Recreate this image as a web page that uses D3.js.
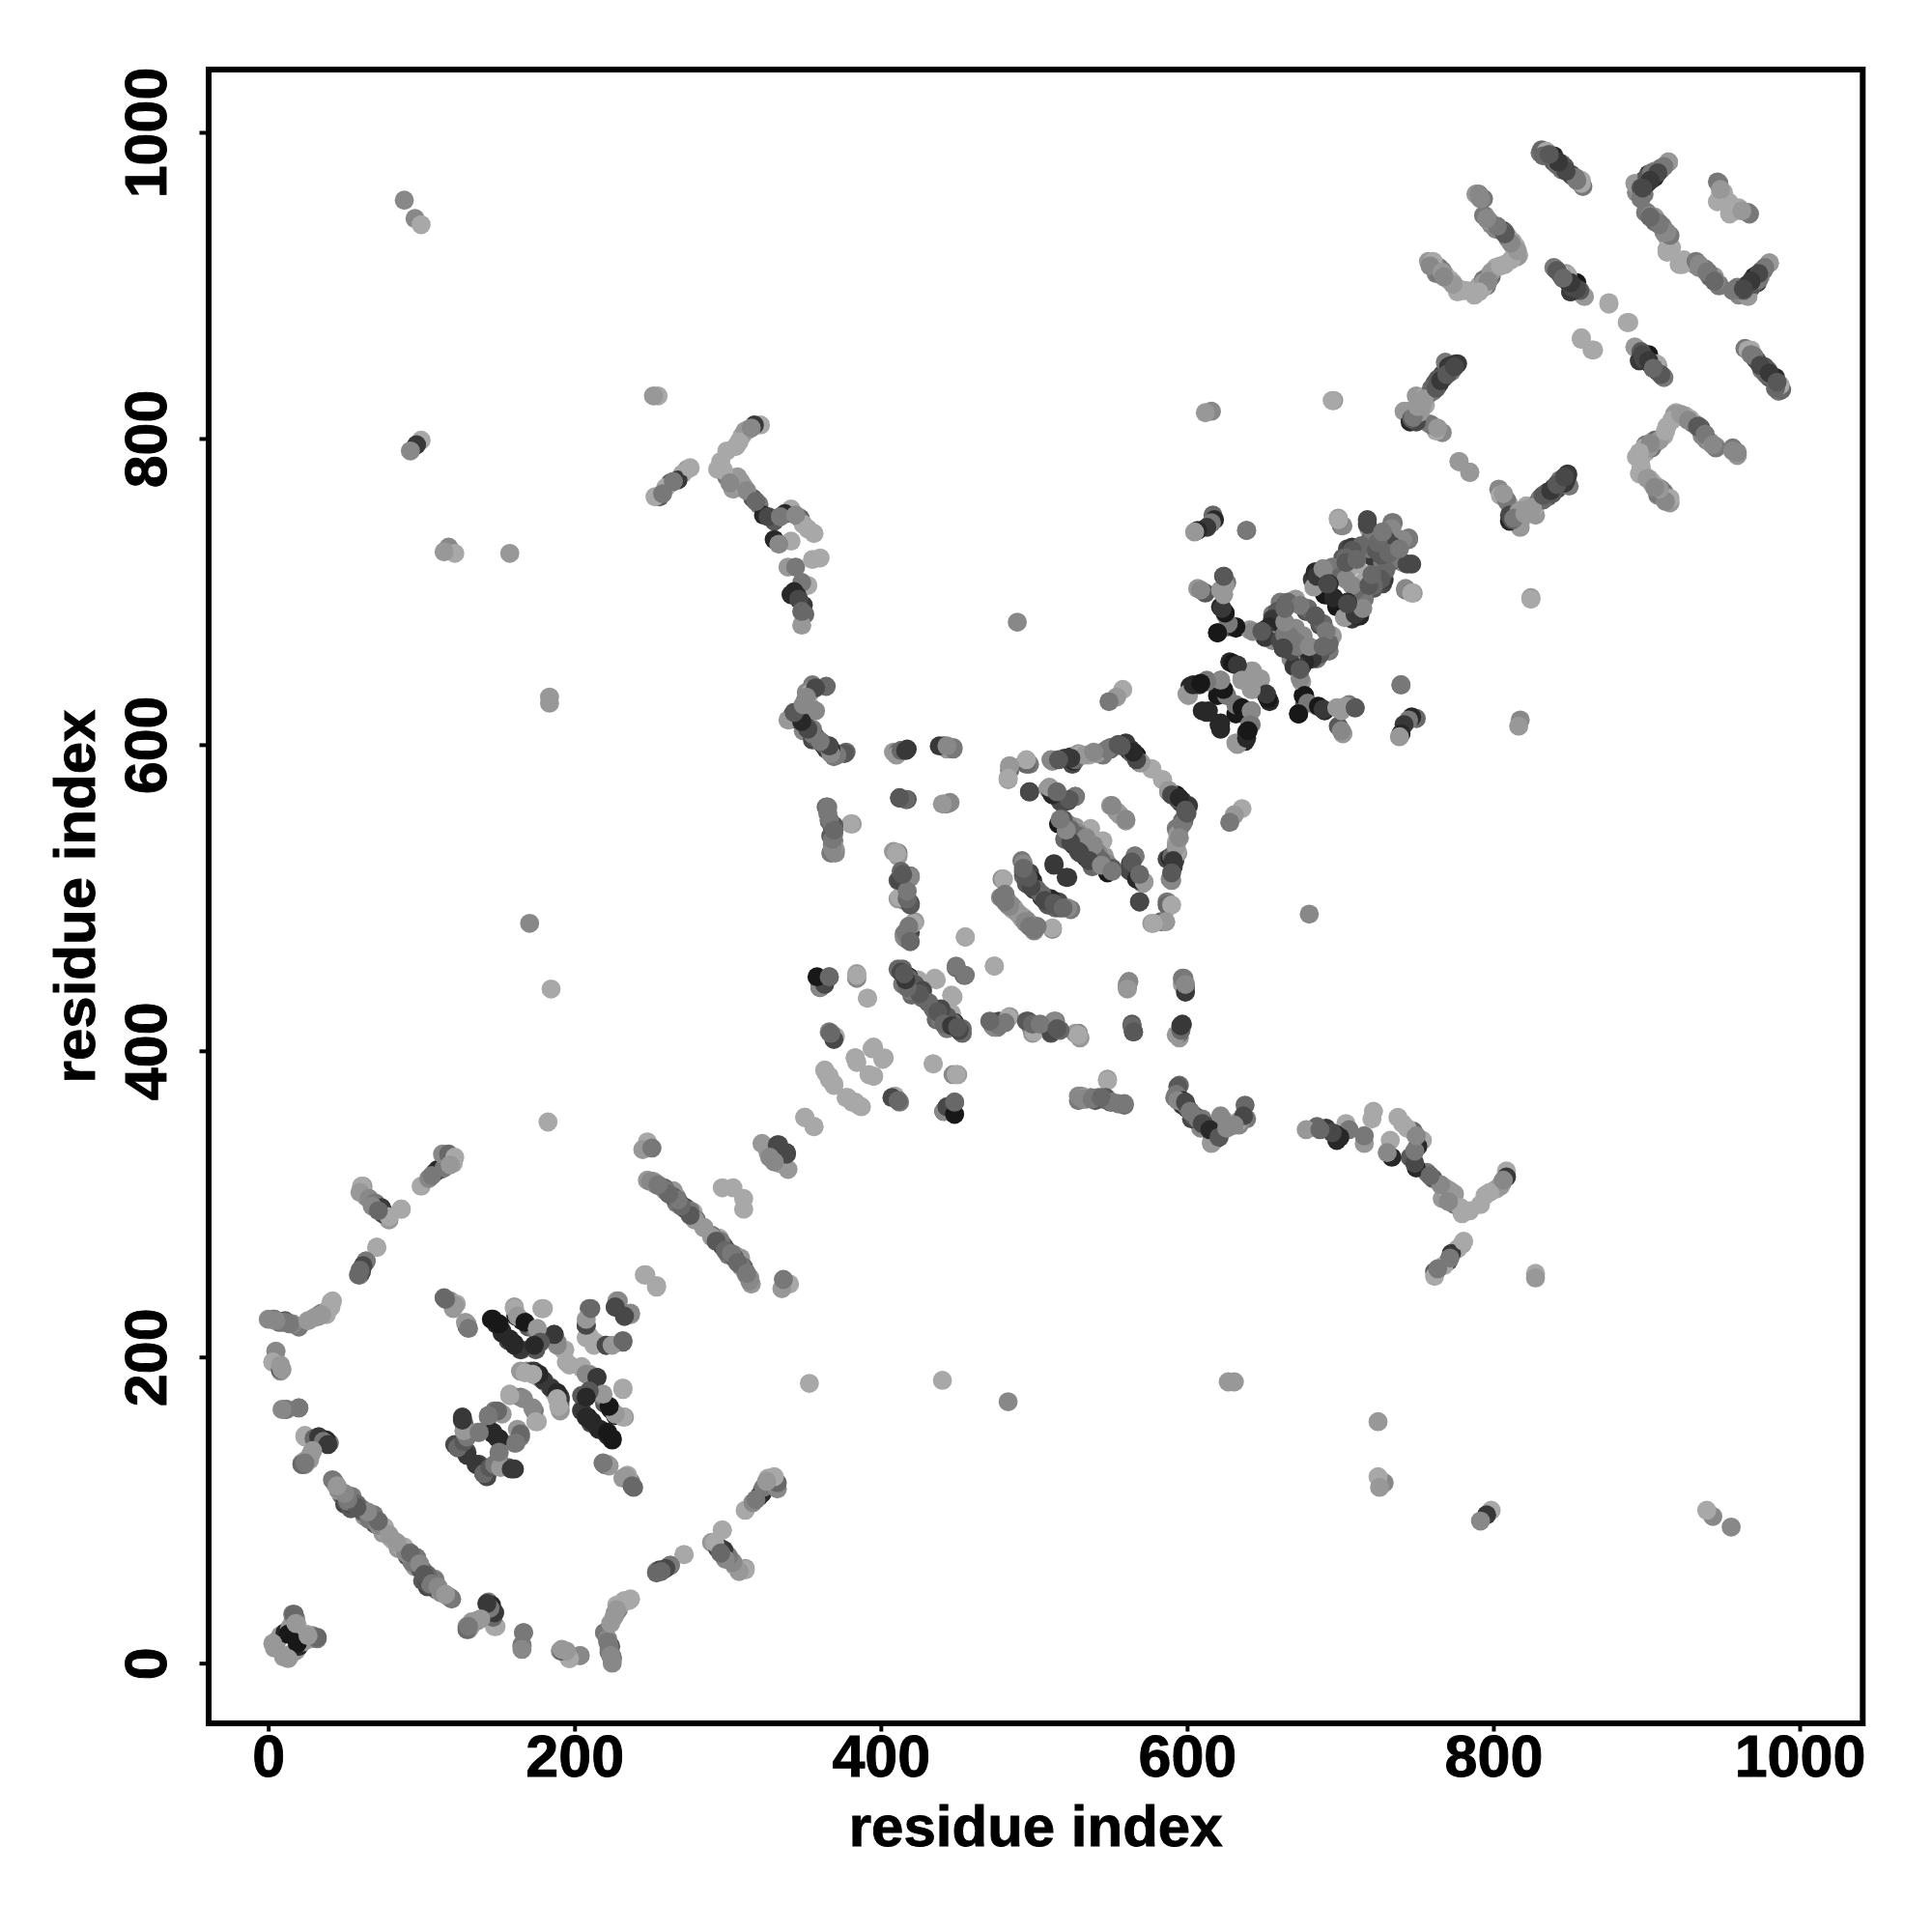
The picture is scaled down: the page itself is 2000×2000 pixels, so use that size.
<!DOCTYPE html>
<html>
<head>
<meta charset="utf-8">
<script src="https://d3js.org/d3.v7.min.js"></script>
<style>
html,body{margin:0;padding:0;background:#fff}
svg{display:block}
text{font-family:"Liberation Sans",Arial,sans-serif;font-weight:700;fill:#000;stroke:#000;stroke-width:.9px}
</style>
</head>
<body>
<svg id="chart" width="2000" height="2000"></svg>
<script>
// Each contact: [residue i, residue j, darkness 0..10]. The map is symmetric, so each is also drawn as [j, i].
const xTicks = [0, 200, 400, 600, 800, 1000];
const yTicks = [0, 200, 400, 600, 800, 1000];
const xTitle = "residue index";
const yTitle = "residue index";

const contactsDomainA = [
[4,12,9],[5,13,2],[6,15,1],[8,18,1],[11,20,8],[14,23,1],[16,27,1],[16,32,3],[18,29,2],[19,25,0],[13,19,9],[3,13,1],[32,17,4],[26,18,1],[4,10,1],
[42,120,3],[44,117,1],[48,110,4],[50,104,6],[55,109,2],[54,101,5],[60,101,3],[64,96,3],[69,97,3],[71,92,6],[75,85,1],[76,89,0],[86,77,0],[89,75,0],[91,70,6],[96,63,1],[97,69,3],[101,61,3],[104,54,6],[109,54,3],[106,51,5],[113,46,1],[119,43,3],
[144,40,3],[146,38,8],[148,33,6],[148,24,0],[137,28,2],[133,25,1],[130,24,2],[131,22,1],[167,20,2],[166,11,3],[191,8,1],[195,6,0],[197,3,0],[204,5,1],
[220,20,2],[225,2,1],[224,11,5],[225,4,5],[227,33,1],[229,35,3],[228,38,0],[232,40,0],[236,41,0],
[254,60,2],[256,61,6],[263,64,4],[272,71,0],[290,79,1],[297,87,0],[296,75,7],[300,71,1],[305,64,1],[312,62,1],
[61,312,0],[60,308,1],[66,304,2],[70,301,3],[74,298,7],[75,294,6],[79,292,0],[87,297,0],
[100,312,0],[105,317,2],[109,321,7],[113,323,3],[111,323,8],[115,324,3],[117,328,3],[121,327,0],[114,333,2],[118,333,4],[122,331,0],
[71,272,0],[64,263,3],[62,260,6],[60,257,4],[59,254,4],
[42,237,0],[39,231,0],[37,229,0],[32,227,2],[30,226,1],[20,220,3],[16,222,2],[11,223,3],[7,223,4],[3,225,3],[0,225,2],
[5,204,2],[3,197,0],[8,192,5],[8,195,1],[9,192,1],[20,167,3],[12,166,3],[9,166,2],
[24,149,0],[30,147,4],[33,148,7],[36,145,3],[39,143,7],[29,139,1],[27,133,1],[22,130,4],[24,131,3],
[115,239,4],[119,237,2],[123,235,0],[129,223,1],[130,220,4]
];
const contactsCoreA = [
[146,225,9],[149,222,8],[153,217,8],[157,211,6],[161,209,9],[166,205,0],[161,233,1],[162,227,9],[166,224,8],[170,220,5],[175,218,3],[177,212,2],[175,205,5],[179,232,0],[187,215,6],[189,210,2],[193,205,0],[197,195,0],[205,194,0],[208,189,2],[215,187,7],
[210,232,4],[208,221,7],[208,213,0],[214,210,0],[221,208,6],[225,208,1],[232,211,4],[228,237,1],[227,233,4],[237,229,2],[233,227,6],[246,254,0],[254,247,0],
[165,191,1],[169,191,1],[172,191,5],[174,191,7],[177,187,0],[181,184,1],[185,180,7],[189,177,8],[189,173,0],[190,168,0],
[127,161,7],[128,157,4],[130,151,2],[137,151,1],[144,161,3],[148,165,3],[153,163,1],[147,151,8],[150,147,8],[158,176,0],[165,174,3],[173,167,2],[175,158,0],[165,150,4],[162,144,3],
[124,141,8],[130,138,6],[127,144,5],[122,143,6],[136,130,7],[141,124,4],[145,128,5],[148,130,3],[152,128,1],[151,138,3],[159,127,7],
[205,165,7],[208,161,8],[212,158,8],[216,153,8],[222,151,9],[225,147,9],[232,161,0],[227,163,1],[223,168,9],[219,176,1],[210,178,5],[208,174,8],[232,180,0],
[222,130,1],[219,131,3],[234,122,1],[232,121,1],[238,116,4]
];
const contactsBridgeAB = [
[248,316,1],[252,315,3],[256,312,1],[263,307,4],[268,302,7],[273,298,5],[278,295,0],[280,290,4],[290,279,1],[297,273,7],[301,267,3],[305,267,2],[309,265,1],[311,259,4],[315,252,1],
[248,341,0],[245,336,1],[251,337,3],[297,311,0],[304,311,0],
[323,340,1],[327,334,1],[333,339,6],[339,334,6],[328,331,2],[351,357,1],[357,351,0],
[184,632,1],[184,628,1],[171,484,2],[185,441,0],[183,354,0],
[89,957,2],[96,945,2],[100,941,0],[100,800,0],[97,797,7],[93,793,2],[118,730,2],[122,726,0],[115,727,1],[158,726,1],
[255,829,0],[252,829,1],[274,781,1],[271,778,0],[268,774,7],[263,772,5],[260,769,0],[256,763,5],[253,763,0],
[296,786,0],[300,793,0],[294,781,0],[300,776,3],[304,768,1],
[322,810,0],[318,810,7],[314,807,1],[310,803,0],[306,796,0],[307,776,1],[311,770,0],[317,762,5],[321,758,3],[324,751,8],[330,749,1],[331,747,5],[342,755,0],[338,752,8],[348,749,4],[350,745,0],[357,739,0],
[331,735,8],[342,734,0],[334,732,2],[340,717,1],[345,717,3],[356,722,0],[361,723,0],[353,705,0],[349,707,3],[342,699,8],[346,698,9],[350,692,7],[351,686,4],[349,679,1],
[490,681,2],[617,819,2],[613,818,1]
];
const contactsDomainB = [
[356,640,3],[355,636,0],[365,639,4],[352,635,2],[355,625,3],[341,617,0],[343,620,9],[344,618,8],[350,610,2],[356,604,6],[356,611,3],[363,601,9],[365,598,7],[370,596,1],[370,593,3],[378,596,4],
[409,596,1],[412,596,4],[414,597,3],[418,598,7],[442,600,6],[444,598,1],[448,598,3],[413,566,8],[418,565,5],[442,562,2],[446,563,2],
[365,560,4],[367,551,6],[369,546,4],[382,549,1],[370,538,3],[368,530,3],[371,532,1],[409,531,1],[412,530,3],
[412,512,5],[414,514,9],[420,515,3],[412,500,1],[416,499,2],[420,497,6],[423,485,1],[417,474,3],[420,478,6],[416,477,3],[456,475,0],[475,456,0],
[480,513,2],[493,525,3],[479,501,2],[484,498,1],[481,500,3],[488,494,0],[493,487,0],[496,484,4],[501,480,3],[513,481,0],
[494,515,4],[498,517,6],[501,509,1],[506,501,7],[510,496,5],[512,500,8],[518,494,5],[523,494,2],
[495,589,1],[498,588,3],[485,587,1],[485,584,4],[484,578,1],[498,570,6],
[512,591,2],[525,593,7],[526,588,6],[530,595,1],[537,594,0],[546,596,3],[551,599,4],[560,601,5],[563,597,8],[568,591,1],[578,585,0],[585,578,0],[589,570,2],[594,568,9],[598,564,7],[602,561,7],
[598,551,4],[594,546,3],[594,531,0],[590,527,8],[592,521,7],[590,513,2],[588,496,4],[591,496,0],[587,485,1],[579,484,0],
[510,572,1],[512,570,7],[518,564,5],[523,564,7],[528,567,3],[551,561,1],[555,557,1],[561,552,2],
[521,549,8],[523,548,0],[528,547,1],[538,546,0],[524,538,7],[527,536,6],[545,537,0],[533,534,3],[535,527,8],[543,530,2],[539,521,4],[549,517,9],[549,523,2],
[563,519,6],[567,528,3],[568,513,8],[573,511,1],[514,523,7],[522,514,7],[570,498,6],
[562,444,2],[562,441,1],[600,439,7],[599,448,3],[600,444,2],[565,417,4],[566,413,5],[594,411,1],[597,414,4],[597,417,7],
[549,381,0],[530,371,2],[534,370,1],[543,370,3],[548,370,5],[552,367,3],[560,366,3],
[595,377,5],[594,372,3],[598,368,8],[601,364,4],[606,358,1],[614,351,9],[619,347,9],[625,355,2],[617,340,1],[629,351,1],[634,354,0],[638,358,6],
[361,442,8],[362,446,5],[367,449,4],[385,451,1],[385,448,2],[392,435,0],
[412,454,4],[416,451,8],[425,447,0],[436,448,0],[450,455,4],[456,450,3],[418,444,5],[421,437,4],[428,436,7],[447,437,0],[435,428,4],[446,425,0],[443,422,2],[440,420,3],[444,415,3],[449,419,9],[453,413,4],[454,415,4],
[475,416,2],[478,417,3],[484,422,0],[496,420,5],[501,413,0],[512,413,6],[514,420,2],[528,412,1],[530,411,0],
[367,413,3],[371,410,0],[395,402,0],[384,396,1],[403,396,0],[393,385,0],[396,384,0],[435,392,0],[450,385,0],
[364,388,0],[367,384,0],[370,378,0],[379,370,0],[382,367,0],[386,365,0],
[408,370,6],[412,368,4],[442,361,2],[444,364,6],[449,359,9],[449,367,4]
];
const contactsDomainC = [
[608,703,1],[613,700,5],[625,711,4],[627,707,3],[623,702,1],[623,691,8],[626,686,1],[621,674,8],[628,678,5],[633,677,9],[642,676,1],[652,676,8],[657,686,3],[660,684,4],[662,694,3],[666,693,5],[672,696,0],[679,688,6],[688,680,5],[696,672,1],[694,667,4],[688,660,5],[683,657,7],[678,655,8],[673,653,7],[662,670,6],[657,669,2],[652,671,7],[671,676,2],[677,672,2],[669,662,6],
[675,644,2],[678,633,9],[680,628,3],[674,621,9],[687,626,9],[690,624,7],[699,625,1],[705,626,1],[711,625,5],[702,610,2],
[629,655,8],[633,653,9],[643,649,1],[637,644,2],[649,644,1],[602,633,1],[603,639,8],[609,640,8],[614,643,3],[623,643,4],[626,634,2],[621,633,9],[611,623,8],[615,623,8],[622,614,8],[633,627,3],[637,625,9],[643,623,2],[642,614,3],[654,631,9],[653,634,7],[643,637,1],[634,601,1],[640,605,8],[641,610,9],
[741,640,3],[751,618,4],[748,619,8],[746,617,3],[743,614,7],[741,608,8],[740,606,1],
[637,559,0],[632,555,1],[629,550,3],
[640,741,3],[700,749,1],[702,744,3],[719,748,6],[720,742,1],[721,735,4],[736,746,3],[746,735,3],[742,735,2],[729,734,6],[735,731,6],[706,729,6],[709,730,7],[719,729,3],[720,725,7],[707,716,0],[703,723,5],[702,716,2],[729,720,3],[737,723,3],[745,719,6],[731,715,4],[728,709,5],[723,705,4],[719,712,0],[713,700,7],[717,696,3],
[685,714,8],[689,711,9],[683,709,7],[702,711,4],[691,699,9],[699,692,9],[709,705,2],[710,688,7],[713,685,8],[704,684,1],[711,686,7],[716,690,2],[744,703,2],[748,700,0]
];
const contactsDomainD = [
[697,826,1],[743,819,1],[747,812,8],[749,816,2],[751,829,1],[757,823,0],[759,811,1],[764,807,0],[760,831,4],[763,837,5],[768,843,6],[770,851,3],[772,848,7],[778,850,7],
[779,786,1],[786,779,1],[805,768,2],[806,764,0],[810,761,3],[812,751,6],[819,746,1],[818,753,1],[824,755,1],[829,757,0],[832,762,3],[837,766,7],[841,769,6],[845,774,3],[850,777,7],[826,696,0],
[759,917,1],[762,916,1],[766,913,3],[764,909,2],[770,908,0],[775,903,0],[779,899,0],[788,898,0],[792,901,0],[798,907,3],[803,913,0],[809,915,0],[816,921,0],[816,927,0],[811,933,0],[807,937,8],[803,938,2],[800,941,2],[796,947,1],[795,958,3],[790,961,1],
[832,988,3],[836,989,1],[839,986,7],[841,982,5],[846,981,3],[846,977,3],[852,974,6],[859,970,0],[860,966,3],
[841,913,3],[845,909,7],[849,909,1],[850,905,8],[856,903,9],[852,897,4],[860,895,0],[877,890,0],[889,877,0],[859,867,0],[866,859,0],
[894,861,1],[898,858,5],[901,854,8],[897,852,7],[904,850,8],[908,850,0],[912,842,3],
[916,982,1],[911,978,4],[907,976,2],[903,974,7],[900,970,7],[897,967,5],[896,963,4],[900,961,3],[901,949,3],[907,946,1],[912,940,3],[915,933,1],[918,926,0],[915,925,0],[926,917,0],[923,915,0],[934,917,3],[938,913,3],[943,907,4],[949,902,3],
[948,969,3],[952,962,0],[948,956,0],[959,951,0],[968,949,3],
[982,916,1],[977,911,4],[972,907,8],[968,902,7],[962,898,7],[962,895,2],[968,894,1],
[968,859,0],[973,853,6],[979,846,7],[986,841,8],[990,833,4],[989,836,0],
[921,818,0],[926,815,1],[932,811,3],[937,808,7],[943,799,2],[947,795,3],[958,793,2],[961,792,2],
[914,806,0],[920,817,1],[907,800,4],[901,797,3],[905,795,3],[900,795,0],[895,789,0],[897,778,0],[905,772,0],[909,765,3],[911,768,3],[917,762,0]
];
// Extra readings along the densest strands
const contactsStrandFill = [
[46,114,2],[52,106,3],[58,104,4],[62,99,5],[66,94,3],[72,90,2],[80,82,0],[84,79,1],[93,72,4],[99,65,2],[102,58,5],[107,52,3],[111,50,2],[116,45,1],
[68,299,2],[72,296,4],[107,319,3],[119,326,1],[41,233,0],[35,228,1],[14,222,3],[9,223,3],[5,224,2],[26,224,1],
[250,315,2],[254,313,2],[260,309,3],[265,305,5],[270,300,6],[276,296,3],[285,285,1],[293,276,5],[299,270,4],[303,268,3],[307,262,4],[313,255,3],
[312,806,1],[308,799,0],[309,773,1],[313,767,2],[319,760,4],[327,750,6],[335,750,3],[345,751,2],[353,742,0],
[258,765,3],[265,773,3],[276,782,0],[298,780,0],[302,772,2],[316,808,2],
[344,701,8],[347,696,6],[349,688,4],[358,623,2],[346,621,4],[352,612,3],[358,606,5],[361,603,7],[368,595,2],
[368,541,5],[369,535,3],[414,518,4],[418,500,4],[419,482,3],[420,472,4],
[482,503,3],[486,496,2],[490,491,1],[495,485,2],[498,482,3],[503,506,4],[508,499,6],[514,497,5],[520,494,4],
[528,591,4],[534,594,1],[542,595,1],[549,598,3],[556,601,5],[565,595,5],[571,589,1],[591,568,6],[596,566,8],[600,558,5],[596,540,2],[592,525,7],[591,517,5],
[520,552,5],[525,545,4],[530,541,4],[535,538,3],[540,535,2],[531,530,6],[537,525,6],[545,522,2],[552,518,3],[565,524,5],[570,516,4],
[600,367,6],[603,361,3],[608,356,3],[611,353,6],[616,349,8],[622,344,5],[627,350,2],[632,352,2],
[414,452,6],[419,448,4],[423,444,5],[428,440,6],[432,432,4],[438,426,5],[442,418,4],[447,417,7],[451,416,5],
[505,418,3],[516,415,5],[533,369,2],[539,369,3],[545,370,4],[556,366,3],
[748,814,5],[754,820,1],[761,834,4],[765,840,5],[774,849,7],[808,765,1],[815,749,3],[822,752,1],[827,756,1],[834,764,5],[839,767,7],[843,771,5],[848,776,6],
[760,914,2],[768,910,1],[773,905,0],[783,898,0],[795,903,1],[800,910,1],[806,914,0],[813,918,0],[814,930,0],[809,936,4],[798,944,1],
[834,986,4],[843,980,4],[848,979,5],[855,972,3],[843,911,5],[847,906,6],[853,900,6],
[899,856,6],[903,852,7],[906,847,4],[902,972,5],[905,975,3],[898,965,5],[898,958,3],[904,947,2],[910,942,3],[913,936,2],[936,915,2],[941,910,3],[946,904,4],
[950,960,0],[955,956,0],[964,950,1],[979,913,3],[975,909,6],[970,904,7],[965,899,6],
[970,856,3],[976,849,6],[982,844,7],[987,838,5],
[924,817,1],[929,813,2],[935,809,5],[940,804,3],[945,797,2],[904,798,2],[897,792,0],[898,782,0],[902,775,1],[907,769,2],
[705,720,5],[712,722,4],[725,728,5],[733,726,4],[740,729,3],[694,706,8],[697,697,8],[706,693,6],[680,690,4],[685,685,5],[692,675,3],[668,672,3],[673,665,3],[681,665,2],[664,664,6],[675,650,5],[690,665,4]
];

const allContacts = [contactsDomainA, contactsCoreA, contactsBridgeAB, contactsDomainB, contactsDomainC, contactsDomainD, contactsStrandFill];

const svg = d3.select("#chart");
const x = d3.scaleLinear().domain([0, 1000]).range([277.7, 1863]);
const y = d3.scaleLinear().domain([0, 1000]).range([1721.7, 137]);
const grey = d3.scaleLinear().domain([0, 10]).range([168, 8]);
const box = {l: 216, r: 1928.3, t: 72, b: 1784};
const xRead = 0.9982, yRead = 0.9986; // readings were taken on a grid slightly off the axis ticks

const pts = allContacts.flat().flatMap(d => [d, [d[1], d[0], d[2]]]);
svg.append("g").selectAll("circle").data(pts).join("circle")
  .attr("cx", d => x(d[0] * xRead)).attr("cy", d => y(d[1] * yRead)).attr("r", 9.9)
  .attr("fill", d => { const g = Math.round(grey(d[2])); return `rgb(${g},${g},${g})`; });

const xAxis = svg.append("g").attr("transform", `translate(0,${box.b})`)
  .call(d3.axisBottom(x).tickValues(xTicks).tickFormat(d3.format("d")).tickSize(8.5).tickPadding(0));
xAxis.select(".domain").remove();
xAxis.selectAll("line").attr("stroke", "#000").attr("stroke-width", 4);
xAxis.selectAll("text").attr("y", 55).attr("dy", 0).attr("font-size", 61).attr("fill", "#000");

const yAxis = svg.append("g").attr("transform", `translate(${box.l},0)`)
  .call(d3.axisLeft(y).tickValues(yTicks).tickFormat(d3.format("d")).tickSize(9.5).tickPadding(0));
yAxis.select(".domain").remove();
yAxis.selectAll("line").attr("stroke", "#000").attr("stroke-width", 4);
yAxis.selectAll("text")
  .attr("x", 0).attr("dy", 0).attr("y", 0)
  .attr("text-anchor", "middle").attr("font-size", 61).attr("fill", "#000")
  .attr("transform", "translate(-44,0) rotate(-90)");

svg.append("rect").attr("x", box.l).attr("y", box.t)
  .attr("width", box.r - box.l).attr("height", box.b - box.t)
  .attr("fill", "none").attr("stroke", "#000").attr("stroke-width", 6);

svg.append("text").attr("x", (box.l + box.r) / 2).attr("y", 1911)
  .attr("text-anchor", "middle").attr("font-size", 60).text(xTitle);
svg.append("text").attr("transform", `translate(98,${(box.t + box.b) / 2}) rotate(-90)`)
  .attr("text-anchor", "middle").attr("font-size", 60).text(yTitle);
</script>
</body>
</html>
